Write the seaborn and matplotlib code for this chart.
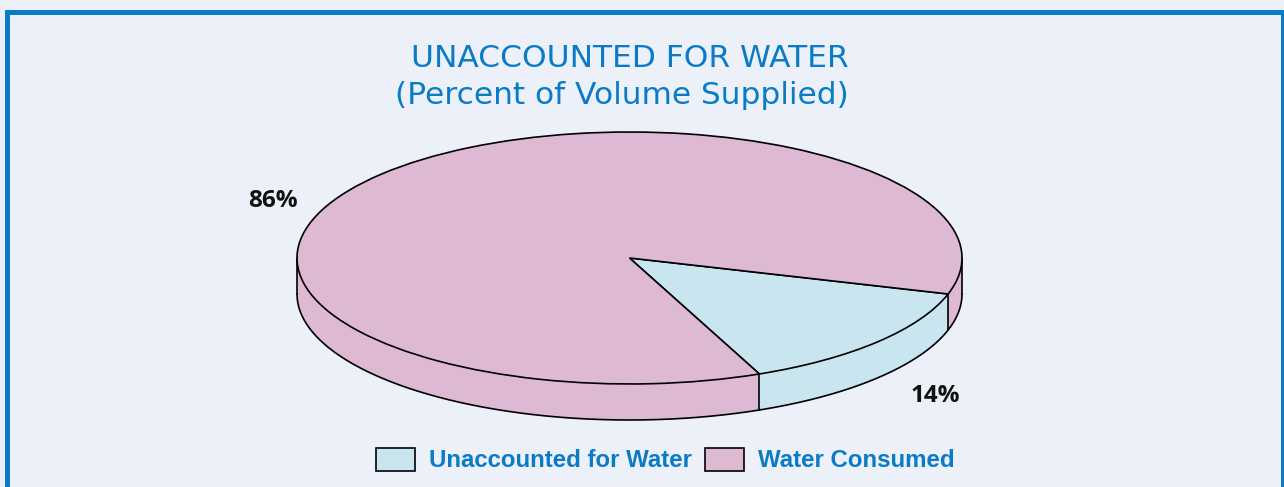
import numpy as np
import matplotlib
matplotlib.use('Agg')
import matplotlib.pyplot as plt
import seaborn as sns
from matplotlib.patches import Rectangle, Patch
from matplotlib import font_manager

# data
categories = ['Unaccounted for Water', 'Water Consumed']
shares = [14, 86]
pct_labels = ['14%', '86%']
colors = ['#C9E6F0', '#DEB9D3']
title_lines = ['UNACCOUNTED FOR WATER', '(Percent of Volume Supplied)']

BLUE = '#0A7BC4'
BG = '#ECF0F8'
START = -67.0     # where the first slice starts (deg)
DEPTH = 0.286     # thickness of the disc, in ellipse half-heights

sns.set_theme(style='white')
plt.rcParams['font.family'] = ['Open Sans', 'DejaVu Sans']

installed = {f.name for f in font_manager.fontManager.ttflist}
narrow = 'Liberation Sans Narrow' if 'Liberation Sans Narrow' in installed else 'Liberation Sans'

W, H = 1284, 487
fig = plt.figure(figsize=(W / 100, H / 100), dpi=100)
fig.patch.set_facecolor(BG)
ax = fig.add_axes([297 / W, 1 - 420 / H, 665 / W, 288 / H])

# top face
wedges, _ = ax.pie(shares, colors=colors, startangle=START, counterclock=True,
                   wedgeprops=dict(edgecolor='black', linewidth=1.2, zorder=3, clip_on=False))

# side band of the disc (front half only)
bounds = START + np.concatenate([[0], np.cumsum(shares)]) / sum(shares) * 360
xs = np.unique(np.concatenate([np.linspace(-1, 1, 4000),
                               np.cos(np.radians(bounds))]))
xs = np.clip(xs, -1, 1)
y_top = -np.sqrt(1 - xs ** 2)
y_bot = y_top - DEPTH
ang = -np.degrees(np.arccos(xs))  # -180..0
for i, c in enumerate(colors):
    a0, a1 = bounds[i], bounds[i + 1]
    rel = (ang - a0) % 360
    mask = rel <= (a1 - a0) + 1e-9
    mask |= np.isclose(rel, 360)
    ax.fill_between(xs, y_bot, y_top, where=mask, color=c, linewidth=0,
                    zorder=1, clip_on=False)

ax.plot(xs, y_bot, color='black', lw=1.2, zorder=2, clip_on=False)
for xe in (-1, 1):
    ax.plot([xe, xe], [0, -DEPTH], color='black', lw=1.2, zorder=2, clip_on=False)
for b in bounds[:-1]:
    t = np.radians(b)
    if np.sin(t) < 0:
        ax.plot([np.cos(t)] * 2, [np.sin(t), np.sin(t) - DEPTH],
                color='black', lw=1.2, zorder=2, clip_on=False)

ax.set_aspect('auto')
ax.set_xlim(-1, 1)
ax.set_ylim(-1 - DEPTH, 1)
ax.axis('off')

# title
title_font = dict(family=['DejaVu Sans'], size=22.5)
fig.text(629.5 / W, 1 - 67 / H, title_lines[0], ha='center', va='baseline',
         color=BLUE, **title_font)
fig.text(621.5 / W, 1 - 104 / H, title_lines[1], ha='center', va='baseline',
         color=BLUE, **title_font)

# percentage labels
fig.text(935 / W, 1 - 396 / H, pct_labels[0], ha='center', va='center',
         color='#111111', fontsize=17.5, fontweight='bold')
fig.text(273 / W, 1 - 201 / H, pct_labels[1], ha='center', va='center',
         color='#111111', fontsize=17.5, fontweight='bold')

# legend
handles = [Patch(facecolor=c, edgecolor='black', linewidth=1.2) for c in colors]
fig.legend(handles, categories, ncol=2, loc='center', bbox_to_anchor=(665.5 / W, 1 - 460 / H),
           frameon=False, labelcolor=BLUE,
           prop=dict(family=narrow, weight='bold', size=17.3),
           handlelength=1.6, handleheight=1.1, handletextpad=0.6, columnspacing=0.55)

# frame
fig.add_artist(Rectangle((6.5 / W, -0.1), (1282.5 - 6.5) / W, 1.1 - 11.5 / H,
                         fill=False, edgecolor=BLUE, linewidth=3.6,
                         transform=fig.transFigure))

fig.savefig('out.png', dpi=100, facecolor=BG)
